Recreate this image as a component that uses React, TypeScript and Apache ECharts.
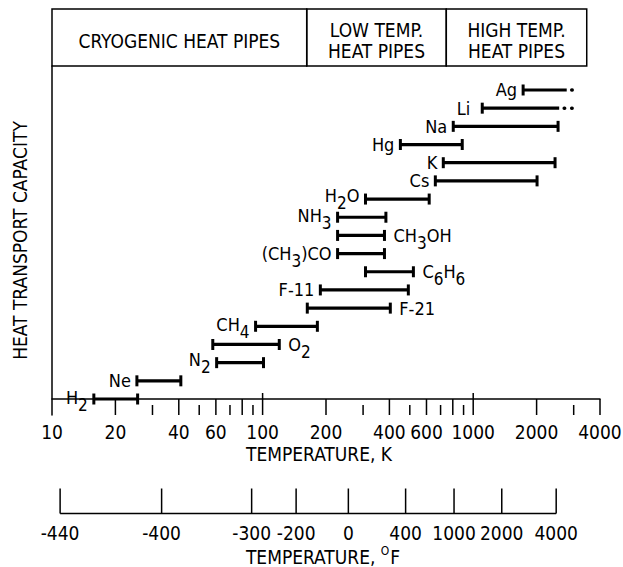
import React, { useEffect, useRef } from 'react';
import * as echarts from 'echarts';

// ---------- data ----------
const fluids = ['H2', 'Ne', 'N2', 'O2', 'CH4', 'F-21', 'F-11', 'C6H6', '(CH3)CO', 'CH3OH', 'NH3', 'H2O', 'Cs', 'K', 'Hg', 'Na', 'Li', 'Ag'];
const lowK = [15.8, 25.3, 60.5, 58, 92.6, 163, 188, 308, 227, 227, 227, 308, 661, 721, 451, 804, 1104, 1726];
const highK = [25.5, 40.9, 101, 120, 182, 404, 492, 520, 379, 379, 385, 618, 2010, 2447, 887, 2529, 2560, 2780];
const dottedToK: (number | null)[] = [null, null, null, null, null, null, null, null, null, null, null, null, null, null, null, null, 2950, 2980];

const kTickLabels = [10, 20, 40, 60, 100, 200, 400, 600, 1000, 2000, 4000];
const kTicksLong = [100, 1000];
const kTicksMedium = [20, 40, 60, 80, 200, 400, 600, 800, 2000, 4000];
const kTicksShort = [30, 50, 70, 90, 300, 500, 700, 900, 3000];
const fTickLabels = [-440, -400, -300, -200, 0, 400, 1000, 2000, 4000];

const headerTitles = [['CRYOGENIC HEAT PIPES'], ['LOW TEMP.', 'HEAT PIPES'], ['HIGH TEMP.', 'HEAT PIPES']];
const headerBoundsK = [10, 162, 745, 3460];

// ---------- styles ----------
const FONT = "'Liberation Sans Narrow', 'DejaVu Sans Condensed', 'Arial Narrow', 'Roboto', sans-serif";
const rightLabels = new Set(['O2', 'CH3OH', 'C6H6', 'F-21']);
const labelGap: Record<string, number> = { Li: 12 };
const labelDy: Record<string, number> = { H2O: -4, H2: -2, CH4: -2, N2: -3, NH3: -2 };
const tickLengths = [22, 16, 10];
const Y_MIN = -0.88;
const Y_MAX = 18.32;
const HEADER_H = 57;
const HEADER_LINE = 21;

const fToK = (f: number) => (f - 32) * 5 / 9 + 273.15;

const richName = (s: string) =>
  s.replace(/(\d+)/g, (m, d, off) => {
    const prev = s[off - 1];
    return /[A-Za-z)]/.test(prev) ? `{s|${d}}` : `{n|${d}}`;
  }).replace(/(^|\})([^{}]+)(?=\{|$)/g, (m, a, t) => `${a}{n|${t}}`);

const labelRich = {
  n: { fontSize: 18, fontFamily: FONT, color: '#000' },
  s: { fontSize: 17, fontFamily: FONT, color: '#000', padding: [15, 0, 0, 0] },
};

export default function App() {
  const ref = useRef<HTMLDivElement>(null);
  useEffect(() => {
    if (!ref.current) return;
    const chart = echarts.init(ref.current, undefined, { renderer: 'svg' });

    const barData = fluids.map((f, i) => [lowK[i], highK[i], i, dottedToK[i] ?? NaN]);
    const tickData = [
      ...kTicksLong.map((v) => [v, 0]),
      ...kTicksMedium.map((v) => [v, 1]),
      ...kTicksShort.map((v) => [v, 2]),
    ];

    const option: any = {
      animation: false,
      backgroundColor: '#fff',
      grid: [
        { left: 52, right: 23, top: 66, height: 349 },
        { left: 52, right: 23, top: 508, height: 10 },
      ],
      xAxis: [
        {
          gridIndex: 0, type: 'log', logBase: 10, min: 10, max: 4000,
          axisLine: { show: true, lineStyle: { color: '#000', width: 1.5 } },
          axisTick: { show: false }, axisLabel: { show: false }, splitLine: { show: false },
          name: 'TEMPERATURE, K', nameLocation: 'middle', nameGap: 29,
          nameTextStyle: { color: '#000', fontSize: 19, fontFamily: FONT, padding: [0, 14, 0, 0] },
        },
        {
          gridIndex: 1, type: 'log', logBase: 10, min: 10, max: 4000,
          axisLine: { show: false }, axisTick: { show: false }, axisLabel: { show: false }, splitLine: { show: false },
          name: '{a|TEMPERATURE, }{s|O}{a|F}', nameLocation: 'middle', nameGap: 31,
          nameTextStyle: {
            color: '#000', fontSize: 19, fontFamily: FONT, padding: [0, 6, 0, 0],
            rich: {
              a: { fontSize: 19, fontFamily: FONT, color: '#000' },
              s: { fontSize: 12, fontFamily: FONT, color: '#000', padding: [0, 1, 12, 0] },
            },
          },
        },
      ],
      yAxis: [
        {
          gridIndex: 0, type: 'value', min: Y_MIN, max: Y_MAX,
          axisLine: { show: true, lineStyle: { color: '#000', width: 1.5 } },
          axisTick: { show: false }, axisLabel: { show: false }, splitLine: { show: false },
          name: 'HEAT TRANSPORT CAPACITY', nameLocation: 'middle', nameGap: 23, nameRotate: 90,
          nameTextStyle: { color: '#000', fontSize: 19, fontFamily: FONT },
        },
        { gridIndex: 1, type: 'value', min: 0, max: 1, show: false },
      ],
      series: [
        // header boxes
        {
          type: 'custom', xAxisIndex: 0, yAxisIndex: 0, clip: false,
          data: headerTitles.map((t, i) => [headerBoundsK[i], headerBoundsK[i + 1]]),
          renderItem: (params: any, api: any) => {
            const a = api.coord([api.value(0), Y_MAX]);
            const b = api.coord([api.value(1), Y_MAX]);
            const top = a[1] - HEADER_H;
            const lines = headerTitles[params.dataIndex];
            const cy = top + HEADER_H / 2 + 3;
            const children: any[] = [
              { type: 'rect', shape: { x: a[0], y: top, width: b[0] - a[0], height: HEADER_H }, style: { fill: 'none', stroke: '#000', lineWidth: 1.5 } },
            ];
            lines.forEach((ln, k) => {
              children.push({
                type: 'text',
                style: {
                  text: ln, x: (a[0] + b[0]) / 2, y: cy + (k - (lines.length - 1) / 2) * HEADER_LINE,
                  align: 'center', verticalAlign: 'middle', fontSize: 19, fontFamily: FONT, fill: '#000',
                },
              });
            });
            return { type: 'group', children };
          },
        },
        // K axis ticks
        {
          type: 'custom', xAxisIndex: 0, yAxisIndex: 0, clip: false,
          data: tickData,
          renderItem: (params: any, api: any) => {
            const p = api.coord([api.value(0), Y_MIN]);
            const len = tickLengths[api.value(1)];
            return { type: 'line', shape: { x1: p[0], y1: p[1], x2: p[0], y2: p[1] - len }, style: { stroke: '#000', lineWidth: 1.5 } };
          },
        },
        // K axis labels
        {
          type: 'custom', xAxisIndex: 0, yAxisIndex: 0, clip: false,
          data: kTickLabels.map((v) => [v]),
          renderItem: (params: any, api: any) => {
            const p = api.coord([api.value(0), Y_MIN]);
            return {
              type: 'text',
              style: { text: String(kTickLabels[params.dataIndex]), x: p[0], y: p[1] + 17, align: 'center', verticalAlign: 'middle', fontSize: 19, fontFamily: FONT, fill: '#000' },
            };
          },
        },
        // bars
        {
          type: 'custom', xAxisIndex: 0, yAxisIndex: 0, clip: false,
          data: barData,
          renderItem: (params: any, api: any) => {
            const name = fluids[params.dataIndex];
            const idx = api.value(2);
            const p0 = api.coord([api.value(0), idx]);
            const p1 = api.coord([api.value(1), idx]);
            const dot = api.value(3);
            const cap = (x: number, y: number) => ({ type: 'line', shape: { x1: x, y1: y - 5.5, x2: x, y2: y + 5.5 }, style: { stroke: '#000', lineWidth: 3 } });
            const children: any[] = [
              { type: 'line', shape: { x1: p0[0], y1: p0[1], x2: p1[0], y2: p1[1] }, style: { stroke: '#000', lineWidth: 3.2 } },
              cap(p0[0], p0[1]),
            ];
            if (isNaN(dot)) {
              children.push(cap(p1[0], p1[1]));
            } else {
              const p2 = api.coord([dot, idx]);
              children.push({ type: 'line', shape: { x1: p1[0] + 5, y1: p1[1], x2: p2[0], y2: p2[1] }, style: { stroke: '#000', lineWidth: 3.5, lineCap: 'round', lineDash: [0.5, 7] } });
            }
            const right = rightLabels.has(name);
            const gap = labelGap[name] ?? (right ? 9 : 6);
            children.push({
              type: 'text',
              style: {
                text: richName(name), rich: labelRich,
                x: right ? p1[0] + gap : p0[0] - gap, y: p0[1] + (labelDy[name] ?? 0),
                align: right ? 'left' : 'right', verticalAlign: 'middle', fontSize: 18, fontFamily: FONT, fill: '#000',
              },
            });
            return { type: 'group', children };
          },
        },
        // Fahrenheit axis baseline
        {
          type: 'custom', xAxisIndex: 1, yAxisIndex: 1, clip: false,
          data: [[fToK(fTickLabels[0]), fToK(fTickLabels[fTickLabels.length - 1])]],
          renderItem: (params: any, api: any) => {
            const a = api.coord([api.value(0), 0]);
            const b = api.coord([api.value(1), 0]);
            return { type: 'line', shape: { x1: a[0], y1: a[1], x2: b[0], y2: b[1] }, style: { stroke: '#000', lineWidth: 1.5 } };
          },
        },
        // Fahrenheit ticks + labels
        {
          type: 'custom', xAxisIndex: 1, yAxisIndex: 1, clip: false,
          data: fTickLabels.map((f) => [fToK(f), f]),
          renderItem: (params: any, api: any) => {
            const p = api.coord([api.value(0), 0]);
            return {
              type: 'group',
              children: [
                { type: 'line', shape: { x1: p[0], y1: p[1], x2: p[0], y2: p[1] - 25 }, style: { stroke: '#000', lineWidth: 1.5 } },
                { type: 'text', style: { text: String(fTickLabels[params.dataIndex]), x: p[0], y: p[1] + 19, align: 'center', verticalAlign: 'middle', fontSize: 19, fontFamily: FONT, fill: '#000' } },
              ],
            };
          },
        },
      ],
    };
    chart.setOption(option);
    return () => chart.dispose();
  }, []);
  return <div ref={ref} style={{ position: 'absolute', left: 0, top: 0, width: 623, height: 567 }} />;
}
